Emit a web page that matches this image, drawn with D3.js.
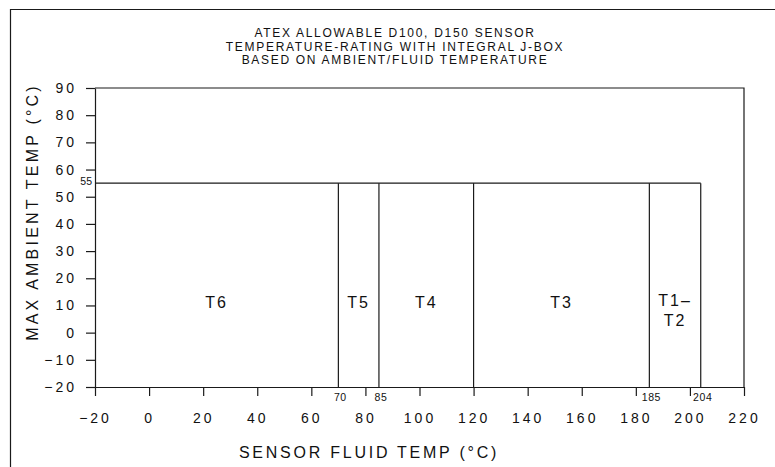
<!DOCTYPE html>
<html>
<head>
<meta charset="utf-8">
<script src="https://cdn.jsdelivr.net/npm/d3@7"></script>
<style>
  body { margin: 0; background: #fff; }
  text { font-family: "Liberation Sans", Arial, sans-serif; fill: #111; }
</style>
</head>
<body>
<svg id="chart" width="775" height="467"></svg>
<script>
// chart data
const titleLines = ["ATEX ALLOWABLE D100, D150 SENSOR", "TEMPERATURE-RATING WITH INTEGRAL J-BOX", "BASED ON AMBIENT/FLUID TEMPERATURE"];
const xTicks = [-20, 0, 20, 40, 60, 80, 100, 120, 140, 160, 180, 200, 220];
const yTicks = [-20, -10, 0, 10, 20, 30, 40, 50, 60, 70, 80, 90];
// zone boundaries along the fluid temp axis
const zoneBounds = [-20, 70, 85, 120, 185, 204];
const zoneLabels = [["T6"], ["T5"], ["T4"], ["T3"], ["T1\u2013", "T2"]];
const maxAmbient = 55;
const markedTemps = [70, 85, 185, 204];

const svg = d3.select("#chart");
const lineColor = "#1a1a1a";

// plot area in pixels
const plotLeft = 95, plotRight = 744, plotTop = 88, plotBottom = 387;

const x = d3.scaleLinear().domain([-20, 220]).range([plotLeft, plotRight]);
const y = d3.scaleLinear().domain([-20, 90]).range([plotBottom, plotTop]);

// outer sheet border (only left and top show)
svg.append("path")
    .attr("d", `M10.5,467 L10.5,9.5 L775,9.5`)
    .attr("fill", "none").attr("stroke", lineColor).attr("stroke-width", 1.2);

// title
svg.append("g").selectAll("text")
    .data(titleLines)
    .enter().append("text")
    .attr("x", 395)
    .attr("y", (d, i) => 37 + i * 13.5)
    .attr("text-anchor", "middle")
    .style("font-size", "12px")
    .style("letter-spacing", "1.7px")
    .text(d => d);

// axes
const xAxis = svg.append("g")
    .attr("transform", `translate(0,${plotBottom})`)
    .call(d3.axisBottom(x).tickValues(xTicks).tickSize(9).tickSizeOuter(0).tickPadding(21));
const yAxis = svg.append("g")
    .attr("transform", `translate(${plotLeft},0)`)
    .call(d3.axisLeft(y).tickValues(yTicks).tickSize(9).tickSizeOuter(0).tickPadding(9));

[xAxis, yAxis].forEach(a => {
    a.selectAll("path, line").attr("stroke", lineColor).attr("stroke-width", 1.2);
    a.selectAll("text")
        .style("font-size", "14px")
        .style("letter-spacing", "3px")
        .style("font-family", "'Liberation Sans', Arial, sans-serif")
        .attr("fill", "#111");
});
xAxis.selectAll("text").attr("dy", "0.35em").attr("y", 31);

// plot frame top and right
svg.append("path")
    .attr("d", `M${x(-20)},${y(90)} L${x(220)},${y(90)} L${x(220)},${y(-20)}`)
    .attr("fill", "none").attr("stroke", lineColor).attr("stroke-width", 1.2);

// max ambient line
svg.append("line")
    .attr("x1", x(zoneBounds[0])).attr("x2", x(zoneBounds[zoneBounds.length - 1]))
    .attr("y1", y(maxAmbient)).attr("y2", y(maxAmbient))
    .attr("stroke", lineColor).attr("stroke-width", 1.2);

// zone dividers
svg.append("g").selectAll("line")
    .data(zoneBounds.slice(1))
    .enter().append("line")
    .attr("x1", d => x(d)).attr("x2", d => x(d))
    .attr("y1", y(maxAmbient)).attr("y2", y(-20))
    .attr("stroke", lineColor).attr("stroke-width", 1.2);

// zone labels
zoneLabels.forEach((lbl, i) => {
    const cx = x((zoneBounds[i] + zoneBounds[i + 1]) / 2);
    const t = svg.append("text")
        .attr("x", cx)
        .attr("y", lbl.length > 1 ? 306 : 308)
        .attr("text-anchor", "middle")
        .style("font-size", "16px")
        .style("letter-spacing", "2px");
    lbl.forEach((s, j) => {
        t.append("tspan").attr("x", cx).attr("dy", j === 0 ? 0 : 20).text(s);
    });
});

// small value labels under the dividers
svg.append("g").selectAll("text")
    .data(markedTemps)
    .enter().append("text")
    .attr("x", d => x(d) + 2)
    .attr("y", 401)
    .attr("text-anchor", "middle")
    .style("font-size", "10.5px")
    .style("letter-spacing", "0.6px")
    .text(d => d);

// 55 label
svg.append("text")
    .attr("x", plotLeft - 3)
    .attr("y", y(maxAmbient) + 2)
    .attr("text-anchor", "end")
    .style("font-size", "10.5px")
    .text(maxAmbient);

// axis titles
svg.append("text")
    .attr("x", 369)
    .attr("y", 458)
    .attr("text-anchor", "middle")
    .style("font-size", "16px")
    .style("letter-spacing", "2.75px")
    .text("SENSOR FLUID TEMP (\u00b0C)");

svg.append("text")
    .attr("transform", "translate(38,212) rotate(-90)")
    .attr("text-anchor", "middle")
    .style("font-size", "16px")
    .style("letter-spacing", "3.2px")
    .text("MAX AMBIENT TEMP (\u00b0C)");
</script>
</body>
</html>
